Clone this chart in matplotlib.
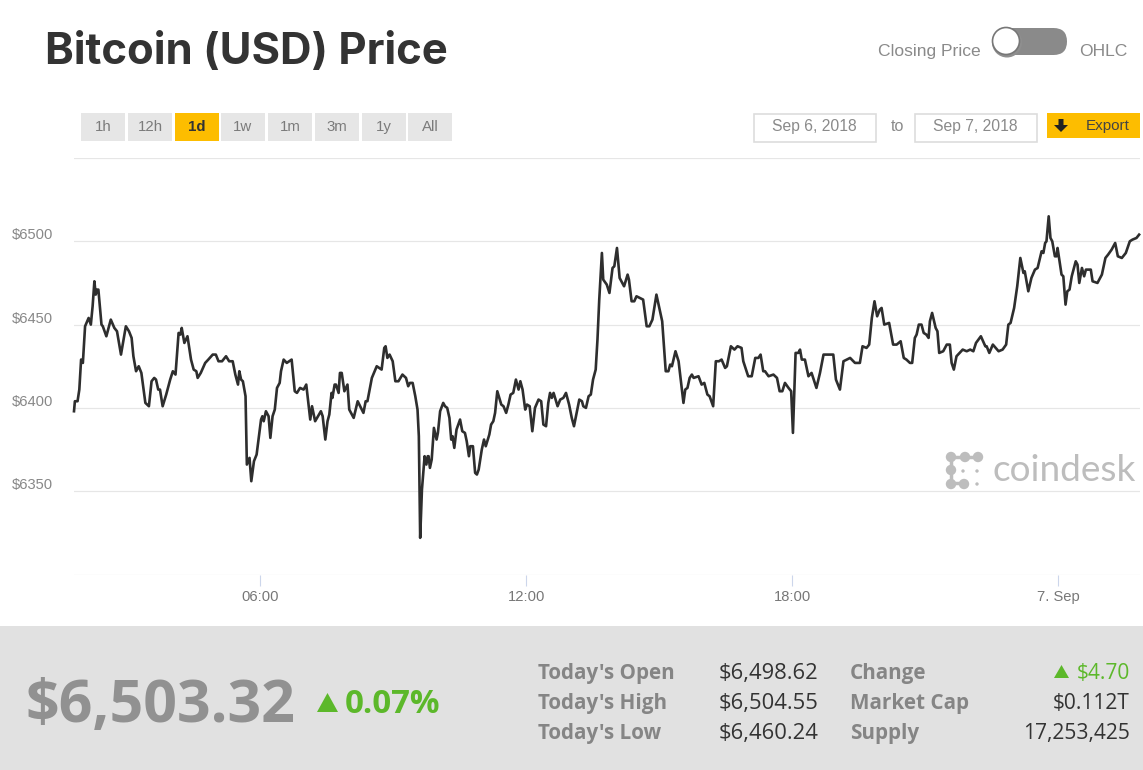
import matplotlib
matplotlib.use("Agg")
import matplotlib.pyplot as plt
from matplotlib.patches import Rectangle, FancyBboxPatch, Circle, Polygon

# ---- data (hours since 00:00 on Sep 6, price in USD) ----
hours = [1.80,1.82,1.88,1.92,1.96,2.00,2.05,2.13,2.18,2.22,2.26,2.29,2.32,2.35,2.42,2.45,2.53,2.63,2.71,2.77,
 2.86,2.97,3.04,3.10,3.14,3.20,3.26,3.32,3.41,3.49,3.55,3.61,3.65,3.70,3.74,3.80,3.88,3.97,4.03,4.09,
 4.16,4.20,4.23,4.29,4.36,4.44,4.50,4.56,4.59,4.66,4.76,4.83,4.93,5.00,5.06,5.14,5.23,5.30,5.38,5.44,
 5.50,5.53,5.57,5.61,5.67,5.70,5.76,5.80,5.86,5.92,6.02,6.05,6.08,6.13,6.19,6.23,6.28,6.33,6.38,6.44,
 6.47,6.53,6.60,6.71,6.78,6.83,6.90,6.98,7.04,7.13,7.17,7.24,7.37,7.41,7.47,7.52,7.56,7.61,7.63,7.68,
 7.71,7.77,7.80,7.84,7.90,7.97,8.01,8.11,8.20,8.33,8.38,8.42,8.52,8.63,8.74,8.80,8.83,8.87,8.92,8.99,
 9.05,9.12,9.21,9.29,9.34,9.38,9.44,9.50,9.55,9.58,9.61,
 9.65,9.71,9.75,9.78,9.80,9.83,9.87,9.92,9.98,10.01,10.06,10.13,10.17,10.22,10.27,10.31,10.34,10.38,10.43,
 10.51,10.56,10.62,10.66,10.71,10.74,10.80,10.85,10.89,10.93,11.00,11.05,11.09,11.17,11.21,11.26,11.30,
 11.35,11.44,11.49,11.55,11.60,11.65,11.71,11.77,11.83,11.87,11.92,11.98,12.02,12.08,12.14,12.20,12.28,
 12.34,12.39,12.45,12.50,12.54,12.58,12.62,12.71,12.77,12.84,12.90,12.97,13.03,13.08,13.14,13.20,13.26,
 13.29,13.35,13.41,13.46,13.51,13.57,13.61,13.65,13.71,13.74,13.82,13.88,13.95,13.99,14.05,14.11,14.21,
 14.29,14.32,14.38,14.44,14.49,14.64,14.72,14.78,14.85,14.94,15.07,15.15,15.21,15.25,15.29,15.37,15.44,
 15.55,15.59,15.64,15.69,15.74,15.78,15.89,15.96,16.02,16.09,16.14,16.22,16.28,16.35,16.41,16.49,16.53,
 16.62,16.70,16.77,16.86,16.90,17.01,17.09,17.17,17.24,17.29,17.35,17.39,17.47,17.58,17.66,17.72,
 17.78,17.84,17.92,17.98,18.02,18.08,18.14,18.18,18.22,18.29,18.37,18.44,18.55,18.63,18.71,18.77,18.93,
 18.99,19.08,19.16,19.31,19.42,19.53,19.59,19.68,19.74,19.80,19.86,19.92,19.98,20.02,20.08,20.19,20.28,
 20.36,20.45,20.52,20.58,20.66,20.71,20.77,20.81,20.86,20.92,20.97,21.03,21.08,21.11,21.16,21.24,21.28,
 21.32,21.41,21.49,21.56,21.60,21.65,21.71,21.85,21.94,22.02,22.09,22.15,22.26,22.36,22.39,22.45,22.53,
 22.66,22.75,22.83,22.88,22.93,23.01,23.08,23.15,23.22,23.25,23.33,23.40,23.48,23.54,23.63,23.67,23.71,
 23.74,23.79,23.83,23.87,23.93,23.97,23.99,24.08,24.12,24.17,24.21,24.26,24.31,24.40,24.44,24.48,24.54,
 24.59,24.63,24.74,24.78,24.89,24.99,25.07,25.13,25.21,25.29,25.35,25.44,25.53,25.62,25.68,25.77,25.83]
prices = [6398,6404,6404,6411,6429,6427,6449,6454,6450,6461,6476,6468,6471,6471,6450,6449,6443,6453,6448,6446,
 6432,6449,6446,6442,6431,6422,6425,6421,6403,6401,6416,6418,6417,6411,6411,6401,6408,6417,6422,6420,
 6445,6444,6448,6439,6443,6429,6423,6422,6418,6421,6427,6429,6432,6432,6428,6428,6431,6428,6428,6420,
 6414,6422,6417,6416,6407,6366,6370,6356,6368,6372,6393,6395,6392,6398,6395,6382,6395,6399,6412,6415,
 6422,6429,6427,6429,6410,6409,6412,6411,6414,6393,6401,6392,6398,6395,6381,6392,6396,6409,6406,6414,
 6414,6409,6421,6421,6410,6414,6399,6394,6404,6397,6404,6404,6418,6425,6423,6436,6437,6430,6432,6428,
 6416,6416,6420,6418,6413,6415,6415,6407,6399,6383,6322,
 6351,6371,6366,6371,6371,6364,6369,6388,6381,6385,6398,6403,6401,6400,6394,6381,6383,6376,6387,
 6393,6386,6385,6380,6371,6377,6377,6361,6360,6363,6375,6381,6377,6384,6390,6392,6397,
 6410,6402,6401,6397,6402,6408,6409,6417,6411,6416,6411,6399,6402,6401,6386,6400,6405,
 6404,6390,6389,6403,6409,6406,6409,6401,6405,6406,6409,6402,6394,6389,6397,6405,6404,
 6401,6400,6407,6408,6417,6423,6441,6465,6493,6477,6474,6469,6484,6485,6496,6478,6473,
 6480,6477,6464,6464,6467,6465,6449,6449,6453,6468,6452,6422,6422,6426,6425,6434,6428,
 6403,6411,6412,6418,6420,6418,6419,6414,6415,6408,6407,6401,6428,6428,6429,6424,6425,
 6437,6435,6437,6436,6428,6419,6419,6430,6430,6432,6422,6422,6419,6420,6418,6410,
 6410,6415,6412,6410,6385,6433,6433,6435,6429,6429,6419,6421,6412,6421,6432,6432,6432,
 6417,6411,6428,6430,6427,6427,6437,6436,6438,6454,6464,6455,6459,6460,6450,6451,6438,
 6438,6440,6430,6429,6427,6427,6442,6444,6450,6450,6445,6444,6442,6452,6457,6448,6446,
 6433,6434,6438,6438,6427,6423,6431,6435,6434,6435,6434,6439,6443,6437,6437,6433,6438,
 6434,6435,6438,6450,6451,6460,6473,6490,6481,6482,6470,6478,6483,6484,6494,6493,6499,
 6500,6515,6502,6500,6491,6491,6496,6480,6479,6462,6470,6471,6479,6488,6486,6475,6484,
 6479,6483,6483,6476,6475,6480,6490,6492,6495,6499,6491,6490,6493,6500,6501,6502,6504]
y_ticks = [6350, 6400, 6450, 6500]
y_grid = [6300, 6350, 6400, 6450, 6500, 6550]
x_ticks = [6, 12, 18, 24]
x_labels = ["06:00", "12:00", "18:00", "7. Sep"]
range_buttons = ["1h", "12h", "1d", "1w", "1m", "3m", "1y", "All"]
stat_labels_left = ["Today's Open", "Today's High", "Today's Low"]
stat_values_left = ["$6,498.62", "$6,504.55", "$6,460.24"]
stat_labels_right = ["Change", "Market Cap", "Supply"]
stat_values_right = ["$4.70", "$0.112T", "17,253,425"]

W, H = 1143, 770
fig = plt.figure(figsize=(W / 100, H / 100), dpi=100, facecolor="white")

def px(size):
    return size * 0.72

# chrome layer in pixel coordinates
bg = fig.add_axes([0, 0, 1, 1], zorder=0)
bg.set_xlim(0, W); bg.set_ylim(H, 0); bg.axis("off")

# chart
left, right, top, bottom = 74, 1140, 158, 574.5
ax = fig.add_axes([left / W, 1 - bottom / H, (right - left) / W, (bottom - top) / H], zorder=2)
ax.patch.set_alpha(0)
ax.set_xlim(1.80, 25.85)
ax.set_ylim(6300, 6550)
for s in ax.spines.values():
    s.set_visible(False)
for g in y_grid:
    ax.axhline(g, color="#e6e6e6", lw=0.85, zorder=1)
ax.plot(hours, prices, color="#2e2e2e", lw=1.9, solid_joinstyle="round", zorder=3, clip_on=False)
ax.set_xticks(x_ticks)
ax.set_xticklabels(x_labels, fontsize=px(14.8), color="#777777", family="Liberation Sans")
ax.tick_params(axis="x", length=8, width=0.8, color="#ccd6eb", pad=3.3)
ax.set_yticks(y_ticks)
ax.set_yticklabels([f"${v}" for v in y_ticks], fontsize=px(14.8), color="#888888",
                   family="Liberation Sans", ha="left", va="center")
ax.tick_params(axis="y", length=0, pad=(left - 12) * 0.72)
offset = matplotlib.transforms.ScaledTranslation(0, 6 / 100, fig.dpi_scale_trans)
for t in ax.get_yticklabels():
    t.set_transform(t.get_transform() + offset)

# title
bg.text(45, 64, "Bitcoin (USD) Price", fontsize=px(43.6), fontweight="bold", family="Inter",
        color="#333333", va="baseline", ha="left")

# toggle
bg.text(981, 56, "Closing Price", fontsize=px(17.5), color="#8a8a8a", family="Liberation Sans", ha="right", va="baseline")
bg.text(1079, 56, "OHLC", fontsize=px(17.5), color="#8a8a8a", family="Liberation Sans", ha="left", va="baseline")
bg.add_patch(FancyBboxPatch((993, 28), 74, 27, boxstyle="round,pad=0,rounding_size=13.5",
                            fc="#8a8a8a", ec="none", mutation_aspect=1))
bg.add_patch(Circle((1007, 42.5), 15, fc="#8f8f8f", ec="none"))
bg.add_patch(Circle((1006, 41), 13.5, fc="white", ec="#777777", lw=1.2))

# range buttons
btn_x = [81, 128, 175, 221, 268, 315, 362, 408]
for x, lab in zip(btn_x, range_buttons):
    active = lab == "1d"
    bg.add_patch(Rectangle((x, 113), 44, 28, fc="#fdbd00" if active else "#e6e6e6", ec="none"))
    bg.text(x + 22, 131, lab, fontsize=px(15), ha="center", va="baseline", family="Liberation Sans",
            color="#333333" if active else "#7b7b7b", fontweight="bold" if active else "normal")

# date range
for x, lab in [(753, "Sep 6, 2018"), (914, "Sep 7, 2018")]:
    bg.add_patch(Rectangle((x + .5, 113.5), 122, 28, fc="white", ec="#dddddd", lw=1.2))
    bg.text(x + 61, 131, lab, fontsize=px(15.7), ha="center", va="baseline", color="#8a8a8a", family="Liberation Sans")
bg.text(897, 131, "to", fontsize=px(16), ha="center", va="baseline", color="#8a8a8a", family="Liberation Sans")
bg.add_patch(Rectangle((1047, 113), 93, 25, fc="#fdbd00", ec="none"))
bg.add_patch(Polygon([[1058.5, 119], [1063.5, 119], [1063.5, 125], [1068, 125], [1061, 132], [1054, 125], [1058.5, 125]],
                     fc="#222222", ec="none"))
bg.text(1086, 130, "Export", fontsize=px(15.3), color="#444444", ha="left", va="baseline", family="Liberation Sans")

# watermark logo
logo_c = "#bdbdbd"
bg.plot([951, 977], [457, 457], color=logo_c, lw=2.5, zorder=1)
bg.plot([951, 951], [457, 483], color=logo_c, lw=2.5, zorder=1)
bg.plot([951, 963], [483, 483], color=logo_c, lw=2.5, zorder=1)
for (cx, cy) in [(951, 457), (965, 457), (978, 457), (951, 470), (951, 484), (964, 484)]:
    bg.add_patch(Circle((cx, cy), 5.2, fc=logo_c, ec="none", zorder=1))
for (cx, cy) in [(977, 471), (977, 484), (963, 471)]:
    bg.add_patch(Circle((cx, cy), 1.7, fc=logo_c, ec="none", zorder=1))
bg.text(992, 481, "coindesk", fontsize=px(37), color="#bdbdbd", family="Lato", ha="left", va="baseline", zorder=1)

# bottom panel
bg.add_patch(Rectangle((0, 626), W, 144, fc="#e1e1e1", ec="none"))
bg.text(26, 722, "$6,503.32", fontsize=px(59), fontweight="bold", family="Open Sans", color="#919191", ha="left", va="baseline")
bg.add_patch(Polygon([[317, 712], [338, 712], [327.5, 693]], fc="#5cb82a", ec="none"))
bg.text(345, 713, "0.07%", fontsize=px(33), fontweight="bold", family="Open Sans", color="#5cb82a", ha="left", va="baseline")

rows = [679, 709, 739]
for y, a, b, c, d in zip(rows, stat_labels_left, stat_values_left, stat_labels_right, stat_values_right):
    bg.text(538, y, a, fontsize=px(20.7), fontweight="bold", family="Open Sans", color="#858585", ha="left", va="baseline")
    bg.text(818, y, b, fontsize=px(22), family="Open Sans", color="#333333", ha="right", va="baseline")
    bg.text(850, y, c, fontsize=px(20.7), fontweight="bold", family="Open Sans", color="#858585", ha="left", va="baseline")
    is_change = c == "Change"
    bg.text(1130, y, d, fontsize=px(21), family="Open Sans", color="#5cb82a" if is_change else "#333333", ha="right", va="baseline")
bg.add_patch(Polygon([[1054, 678], [1069, 678], [1061.5, 665]], fc="#5cb82a", ec="none"))

fig.savefig("out.png", dpi=100)
